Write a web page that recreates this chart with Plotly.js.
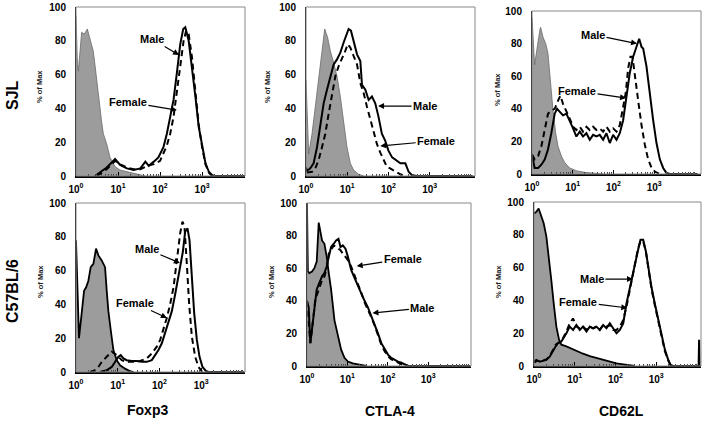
<!DOCTYPE html>
<html>
<head>
<meta charset="utf-8">
<script src="https://cdn.plot.ly/plotly-3.0.1.min.js"></script>
<style>html,body{margin:0;padding:0;background:#fff;}#chart{width:704px;height:422px;}</style>
</head>
<body>
<div id="chart"></div>
<script>
// ---------- DATA (fluorescence intensity vs % of Max) ----------
const rowLabels = ['SJL', 'C57BL/6'];
const colLabels = ['Foxp3', 'CTLA-4', 'CD62L'];
const yTickVals = [0, 20, 40, 60, 80, 100];
const xTickVals = [1, 10, 100, 1000];
const xTickText = ['10<sup>0</sup>', '10<sup>1</sup>', '10<sup>2</sup>', '10<sup>3</sup>'];

// SJL – Foxp3
const sjlFoxp3Iso_x = [1, 1.07, 1.14, 1.26, 1.36, 1.58, 1.86, 2.0, 2.24, 2.57, 2.82, 3.09, 3.39, 3.72, 4.07, 4.47, 5.37, 6.46, 7.41, 8.51, 11.2, 16.2, 23.4, 37.2, 44.7];
const sjlFoxp3Iso_y = [95, 70, 62, 78, 85, 84, 87, 84, 80, 74, 66, 57, 48, 39, 32, 25, 19, 11, 8, 5.5, 3.5, 2.5, 1.5, 0.6, 0];
const sjlFoxp3Male_x = [2.82, 3.72, 5.37, 7.08, 8.51, 11.2, 16.2, 23.4, 33.9, 44.7, 53.7, 70.8, 91.2, 120, 145, 174, 209, 251, 302, 355, 398, 479, 575, 692, 832, 1000, 1202, 1445, 1738, 1995, 10500];
const sjlFoxp3Male_y = [0, 2, 5, 8, 10, 6.5, 4.5, 3.5, 4.5, 8.5, 6, 8.5, 11, 17, 25, 35, 45, 61, 78, 87, 88, 80, 65, 47, 29, 17, 7.5, 2.5, 0.5, 0, 0];
const sjlFoxp3Female_x = [3.16, 5.37, 7.08, 8.51, 11.2, 16.2, 23.4, 33.9, 50, 70.8, 100, 145, 174, 209, 251, 302, 363, 417, 479, 575, 692, 832, 1000, 1202, 1445, 1738];
const sjlFoxp3Female_y = [0, 4, 7, 9, 7, 5, 4, 4, 6, 7, 9, 18, 25, 35, 50, 65, 80, 86, 84, 70, 50, 30, 17, 7, 2, 0];

// SJL – CTLA-4
const sjlCtla4Iso_x = [1, 1.16, 1.40, 1.68, 2.03, 2.44, 2.84, 3.35, 3.89, 4.69, 5.65, 6.81, 8.19, 9.87, 11.9, 14.3, 18.9, 25.1];
const sjlCtla4Iso_y = [57, 13, 25, 41, 59, 74, 87, 82, 74, 67, 59, 47, 31, 17, 7.5, 3.5, 1, 0];
const sjlCtla4Male_x = [1, 1.06, 1.27, 1.53, 1.85, 2.23, 2.68, 3.23, 3.89, 4.69, 5.65, 6.81, 8.19, 9.87, 10.8, 12.3, 14.3, 17.3, 20.8, 22.8, 27.5, 33.1, 39.8, 47.9, 57.5, 69.2, 83.2, 100, 123, 148, 195, 257, 309, 372, 490, 11000];
const sjlCtla4Male_y = [5, 3, 4.5, 7.5, 17, 31, 43, 51, 59, 66, 69, 73, 79, 85, 87, 86, 79, 72, 68, 54, 51, 45, 47, 43, 35, 25, 21, 15, 11, 9.5, 7.5, 7.5, 2.5, 0.5, 0, 0];
const sjlCtla4Female_x = [1.06, 1.40, 1.68, 2.03, 2.44, 2.94, 3.55, 4.28, 5.15, 6.19, 7.46, 8.99, 10.3, 11.9, 14.3, 17.3, 20.8, 25.1, 30.1, 36.3, 43.7, 52.5, 63.1, 75.9, 91.2, 110, 148, 195, 257];
const sjlCtla4Female_y = [2, 2.5, 4.5, 9.5, 17, 25, 37, 49, 59, 65, 69, 74, 78, 76, 71, 66, 55, 49, 41, 33, 25, 19, 14, 10, 5.5, 4.5, 2.5, 1, 0];

// SJL – CD62L
const sjlCd62lIso_x = [1, 1.12, 1.16, 1.55, 1.63, 1.86, 2.17, 2.47, 2.82, 3.28, 3.82, 4.36, 5.26, 6.35, 8.43, 12.3, 19.7, 31.6, 56.2];
const sjlCd62lIso_y = [96, 70, 67, 88, 90, 84, 80, 74, 56, 39, 25, 17, 11, 7, 3.7, 2, 1, 0.4, 0];
const sjlCd62lMale_x = [1, 1.16, 1.41, 1.70, 2.05, 2.47, 2.98, 3.61, 4.12, 4.79, 5.78, 6.98, 8.43, 10.2, 12.3, 14.9, 17.9, 21.7, 26.2, 31.6, 38.2, 46.1, 55.7, 67.3, 81.3, 98.2, 119, 143, 173, 209, 252, 305, 368, 428, 489, 537, 647, 782, 944, 1140, 1377, 1663, 2009, 2427, 11500];
const sjlCd62lMale_y = [12, 3.7, 3.7, 5.7, 8.8, 15, 25, 37, 40, 38, 36, 37, 33, 28, 23, 26, 23, 25, 21, 24, 23, 24, 21, 25, 19, 24, 21, 25, 33, 47, 62, 72, 78, 83, 78, 77, 66, 49, 33, 19, 9, 3.7, 0.6, 0, 0];
const sjlCd62lFemale_x = [1, 1.16, 1.41, 1.70, 2.05, 2.47, 2.98, 3.61, 4.36, 4.98, 5.78, 6.98, 8.43, 10.2, 12.3, 14.9, 17.9, 21.7, 26.2, 31.6, 38.2, 46.1, 55.7, 67.3, 81.3, 98.2, 119, 143, 173, 201, 230, 262, 293, 335, 405, 489, 589, 711, 859, 1038, 1377];
const sjlCd62lFemale_y = [12, 9, 11, 17, 27, 37, 39, 40, 45, 48, 43, 39, 34, 29, 27, 29, 26, 29, 27, 29, 27, 28, 26, 29, 26, 28, 26, 30, 40, 50, 65, 72, 72, 62, 45, 30, 18, 9, 4, 1.5, 0];

// C57BL/6 – Foxp3
const b6Foxp3Iso_x = [1, 1.18, 1.37, 1.56, 1.74, 1.98, 2.25, 2.61, 3.02, 3.44, 4.13, 4.97, 5.45, 5.97, 6.79, 7.87, 9.46, 11.4, 15.0, 19.8, 23.8];
const b6Foxp3Iso_y = [78, 20, 35, 48, 50, 54, 62, 64, 73, 69, 66, 62, 48, 36, 25, 13, 7, 4, 2, 0.4, 0];
const b6Foxp3Male_x = [3.77, 5.44, 7.18, 8.63, 10.4, 11.8, 13.7, 16.4, 21.7, 28.6, 37.7, 49.7, 65.5, 78.7, 94.6, 114, 137, 164, 198, 238, 286, 313, 363, 413, 470, 525, 597, 679, 787, 912, 1076, 1294, 1500, 10500];
const b6Foxp3Male_y = [0, 1, 3, 6, 9, 10, 8, 7, 6.5, 6.5, 6, 6, 7, 10, 13, 17, 23, 29, 36, 46, 56, 62, 71, 83, 85, 78, 58, 35, 19, 9, 3, 0.6, 0, 0];
const b6Foxp3Female_x = [2.17, 2.86, 3.44, 4.13, 5.44, 7.18, 9.46, 12.5, 16.4, 23.8, 34.4, 49.7, 65.5, 86.3, 104, 125, 150, 180, 217, 261, 313, 356, 398, 453, 515, 597, 718, 863, 1038, 1247];
const b6Foxp3Female_y = [0, 1, 3, 6, 9, 12, 10, 7, 6, 6, 6.5, 8, 11, 15, 19, 25, 32, 40, 50, 66, 82, 89, 86, 64, 40, 21, 9, 3, 0.4, 0];

// C57BL/6 – CTLA-4
const b6Ctla4Iso_x = [1, 1.05, 1.14, 1.33, 1.52, 1.74, 1.95, 2.10, 2.36, 2.70, 3.08, 3.46, 3.95, 4.79, 5.78, 7.0, 8.47, 10.3, 13.6, 20.0, 29.3];
const b6Ctla4Iso_y = [100, 58, 57, 58, 60, 64, 88, 84, 77, 75, 67, 57, 47, 28, 18, 10, 5, 2.7, 1.6, 0.8, 0];
const b6Ctla4Male_x = [1, 1.10, 1.21, 1.33, 1.52, 1.74, 2.02, 2.36, 2.70, 3.08, 3.46, 3.95, 4.60, 5.26, 6.01, 6.75, 7.69, 8.97, 10.3, 12.4, 15.0, 18.2, 22.0, 26.6, 32.2, 39.0, 47.2, 57.1, 69.2, 83.6, 101, 122, 148, 179, 217, 263, 318, 10800];
const b6Ctla4Male_y = [40, 36, 14, 22, 36, 47, 51, 55, 57, 61, 67, 73, 75, 77, 78, 73, 74, 72, 67, 59, 54, 49, 45, 40, 36, 31, 26, 20, 14, 10, 7, 5, 3.7, 2.7, 2, 1, 0, 0];
const b6Ctla4Female_x = [1, 1.21, 1.38, 1.61, 1.84, 2.23, 2.70, 3.08, 3.46, 3.95, 4.60, 5.26, 6.01, 6.75, 7.69, 8.97, 10.3, 12.4, 15.0, 18.2, 22.0, 26.6, 32.2, 39.0, 47.2, 57.1, 69.2, 83.6, 101, 122, 148, 179, 217, 263];
const b6Ctla4Female_y = [40, 14, 26, 41, 45, 51, 55, 60, 69, 71, 74, 73, 72, 71, 69, 67, 65, 61, 56, 51, 45, 39, 35, 30, 25, 19, 13, 9, 6, 4, 3.3, 2, 1.2, 0];

// C57BL/6 – CD62L
const b6Cd62lIso_x = [1, 1.14, 1.30, 1.51, 1.73, 2.01, 2.34, 2.67, 3.05, 3.54, 4.12, 4.70, 6.24, 8.28, 11.0, 16.0, 23.4, 34.1, 49.8, 72.6, 106, 155, 225, 300];
const b6Cd62lIso_y = [93, 94, 96, 91, 87, 79, 66, 52, 38, 24, 16, 13, 12, 10.5, 9.5, 7.5, 6, 4.9, 3.5, 2.5, 1.6, 1, 0.4, 0];
const b6Cd62lMale_x = [1, 1.14, 1.38, 1.66, 2.01, 2.43, 2.93, 3.41, 3.89, 4.70, 6.24, 7.53, 9.10, 11.0, 13.3, 16.0, 19.4, 23.4, 28.2, 34.1, 41.2, 49.8, 60.1, 72.6, 87.7, 106, 128, 155, 186, 225, 272, 328, 361, 412, 479, 557, 635, 767, 927, 1119, 1352, 1633, 1972, 2249, 2618, 11000, 11300, 11600];
const b6Cd62lMale_y = [2.6, 3.7, 2.6, 3.2, 3.7, 5.7, 9.7, 12, 14, 15, 20, 24, 22, 25, 22, 24, 21, 24, 23, 24, 22, 25, 23, 26, 23, 20, 22, 26, 38, 48, 56, 67, 71, 77, 77, 70, 60, 48, 38, 28, 18, 10, 3.7, 0.6, 0, 0, 16, 0];
const b6Cd62lFemale_x = [1, 1.14, 1.38, 1.66, 2.01, 2.43, 2.93, 3.41, 3.89, 4.70, 6.24, 7.53, 9.10, 11.0, 13.3, 16.0, 19.4, 23.4, 28.2, 34.1, 41.2, 49.8, 60.1, 72.6, 87.7, 106, 128, 155, 186, 225, 272, 328, 361, 412, 479, 557, 635, 767, 927, 1119, 1352, 1633, 1972, 2249, 2618];
const b6Cd62lFemale_y = [2, 3, 3, 3.5, 4, 6, 10, 13, 14, 15, 21, 26, 29, 24, 23, 24, 22, 24, 23, 24, 22, 25, 24, 25, 22, 22, 24, 28, 36, 47, 56, 68, 72, 76, 76, 70, 60, 47, 37, 27, 17, 9, 3.5, 0.5, 0];

// ---------- LAYOUT ----------
const W = 704, H = 422;
const FONT = 'Arial, "Liberation Sans", sans-serif';
const xd = (a, b) => [a / W, b / W];
const yd = (top, bot) => [1 - bot / H, 1 - top / H];

const panels = [
  {id: '',  px: [76, 245],  py: [7, 176],   xr: 4.02, top: true,
   iso: [sjlFoxp3Iso_x, sjlFoxp3Iso_y], male: [sjlFoxp3Male_x, sjlFoxp3Male_y], female: [sjlFoxp3Female_x, sjlFoxp3Female_y],
   notes: [{t: 'Male', x: 282, y: 71.6, ax: -27, ay: -16}, {t: 'Female', x: 251, y: 39, ax: -49, ay: -8}],
   pom: [40, 87]},
  {id: '2', px: [306, 475], py: [7, 176],   xr: 4.1, top: true,
   iso: [sjlCtla4Iso_x, sjlCtla4Iso_y], male: [sjlCtla4Male_x, sjlCtla4Male_y], female: [sjlCtla4Female_x, sjlCtla4Female_y],
   notes: [{t: 'Male', x: 56, y: 41.4, ax: 47, ay: 0}, {t: 'Female', x: 63, y: 17.8, ax: 56, ay: -5}],
   pom: [268, 87]},
  {id: '3', px: [532, 701], py: [11, 174],  xr: 4.15, top: true,
   iso: [sjlCd62lIso_x, sjlCd62lIso_y], male: [sjlCd62lMale_x, sjlCd62lMale_y], female: [sjlCd62lFemale_x, sjlCd62lFemale_y],
   notes: [{t: 'Male', x: 380, y: 80, ax: -44, ay: -9}, {t: 'Female', x: 204, y: 46.6, ax: -49, ay: -7}],
   pom: [498, 90]},
  {id: '4', px: [76, 245],  py: [203, 372], xr: 4.05, top: false,
   iso: [b6Foxp3Iso_x, b6Foxp3Iso_y], male: [b6Foxp3Male_x, b6Foxp3Male_y], female: [b6Foxp3Female_x, b6Foxp3Female_y],
   notes: [{t: 'Male', x: 309, y: 64.5, ax: -33, ay: -14}, {t: 'Female', x: 151, y: 32, ax: -32, ay: -15}],
   pom: [40, 282]},
  {id: '5', px: [307, 471], py: [203, 366], xr: 4.06, top: false,
   iso: [b6Ctla4Iso_x, b6Ctla4Iso_y], male: [b6Ctla4Male_x, b6Ctla4Male_y], female: [b6Ctla4Female_x, b6Ctla4Female_y],
   notes: [{t: 'Female', x: 17, y: 61.3, ax: 46, ay: -7}, {t: 'Male', x: 41.7, y: 32.5, ax: 50, ay: -5}],
   pom: [271, 282]},
  {id: '6', px: [534, 701], py: [202, 366], xr: 4.1, top: false,
   iso: [b6Cd62lIso_x, b6Cd62lIso_y], male: [b6Cd62lMale_x, b6Cd62lMale_y], female: [b6Cd62lFemale_x, b6Cd62lFemale_y],
   notes: [{t: 'Male', x: 269, y: 53, ax: -41, ay: 0}, {t: 'Female', x: 195, y: 35.4, ax: -49, ay: -6}],
   pom: [498, 282]}
];

const traces = [];
const layout = {
  width: W, height: H,
  margin: {l: 0, r: 0, t: 0, b: 0},
  paper_bgcolor: '#fff', plot_bgcolor: '#fff',
  showlegend: false,
  font: {family: FONT, color: '#000'},
  annotations: [], shapes: []
};

const tickFont = {family: FONT, size: 10, weight: 'bold', color: '#000'};
const noteFont = {family: FONT, size: 11, weight: 'bold', color: '#000'};

panels.forEach(p => {
  const xa = 'x' + p.id, ya = 'y' + p.id;
  const xKey = 'xaxis' + p.id, yKey = 'yaxis' + p.id;
  layout[xKey] = {
    domain: xd(p.px[0], p.px[1]), anchor: ya, type: 'log', range: [0, p.xr],
    tickmode: 'array', tickvals: xTickVals, ticktext: xTickText,
    ticks: 'inside', ticklen: 4, tickwidth: 1, tickcolor: '#000',
    minor: {ticks: 'inside', ticklen: 2, dtick: 'D1', tickcolor: '#444', showgrid: false},
    showline: true, linecolor: '#000', linewidth: 1.5,
    showgrid: false, zeroline: false, tickfont: tickFont, ticklabelstandoff: 3,
    fixedrange: true
  };
  layout[yKey] = {
    domain: yd(p.py[0], p.py[1]), anchor: xa, range: [0, 100],
    tickmode: 'array', tickvals: yTickVals, ticks: '',
    showline: true, linecolor: '#000', linewidth: 1,
    showgrid: false, zeroline: false, tickfont: tickFont, ticklabelstandoff: 7,
    fixedrange: true
  };
  layout.shapes.push({type: 'rect', xref: xa + ' domain', yref: ya + ' domain',
    x0: 0, x1: 1, y0: 0, y1: 1, line: {color: '#888', width: 1}, layer: 'above'});

  traces.push({x: p.iso[0], y: p.iso[1], xaxis: xa, yaxis: ya, type: 'scatter', mode: 'lines',
    fill: 'tozeroy', fillcolor: '#9c9c9c',
    line: {color: p.top ? '#6a6a6a' : '#000', width: p.top ? 0.8 : 1.8}, hoverinfo: 'skip'});
  traces.push({x: p.female[0], y: p.female[1], xaxis: xa, yaxis: ya, type: 'scatter', mode: 'lines',
    line: {color: '#000', width: 2, dash: '6px,4px'}, hoverinfo: 'skip'});
  traces.push({x: p.male[0], y: p.male[1], xaxis: xa, yaxis: ya, type: 'scatter', mode: 'lines',
    line: {color: '#000', width: 2}, hoverinfo: 'skip'});

  p.notes.forEach(n => {
    layout.annotations.push({xref: xa, yref: ya, x: Math.log10(n.x), y: n.y,
      text: n.t, showarrow: true, ax: n.ax, ay: n.ay, axref: 'pixel', ayref: 'pixel',
      arrowhead: 2, arrowsize: 1, arrowwidth: 1.2, arrowcolor: '#000',
      font: noteFont});
  });
  layout.annotations.push({xref: 'paper', yref: 'paper', x: p.pom[0] / W, y: 1 - p.pom[1] / H,
    text: '% of Max', showarrow: false, textangle: -90, xanchor: 'center', yanchor: 'middle',
    font: {family: FONT, size: 7.5, weight: 'bold', color: '#222'}});
});

// row and column labels
[[rowLabels[0], 12, 95], [rowLabels[1], 12, 291]].forEach(r => {
  layout.annotations.push({xref: 'paper', yref: 'paper', x: r[1] / W, y: 1 - r[2] / H, text: r[0],
    showarrow: false, textangle: -90, xanchor: 'center', yanchor: 'middle',
    font: {family: FONT, size: 16, weight: 'bold', color: '#000'}});
});
[[colLabels[0], 147, 410], [colLabels[1], 390, 411], [colLabels[2], 621, 411]].forEach(c => {
  layout.annotations.push({xref: 'paper', yref: 'paper', x: c[1] / W, y: 1 - c[2] / H, text: c[0],
    showarrow: false, xanchor: 'center', yanchor: 'middle',
    font: {family: FONT, size: 14, weight: 'bold', color: '#000'}});
});

Plotly.newPlot('chart', traces, layout, {staticPlot: true, displayModeBar: false});
</script>
</body>
</html>
